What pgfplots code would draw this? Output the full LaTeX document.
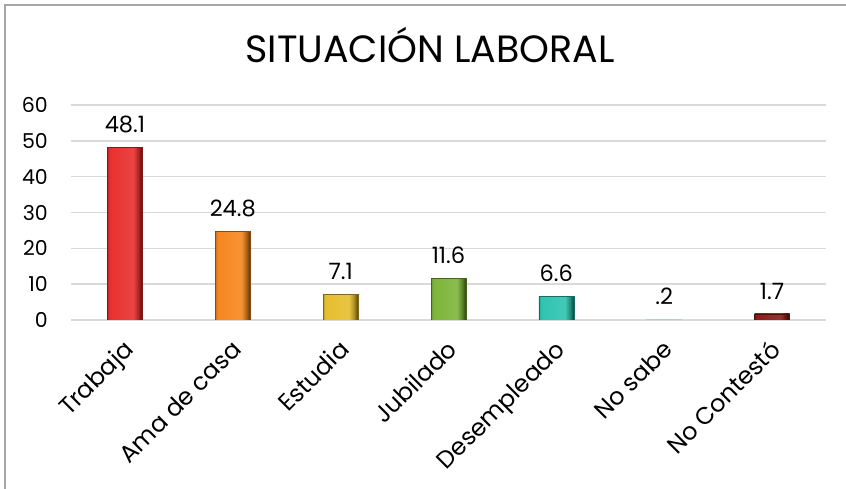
\documentclass[border=0pt]{standalone}
\usepackage{pgfplots}
\pgfplotsset{compat=1.18}
\usepackage{fontspec}
\setmainfont{Poppins}[Scale=1.0]
\definecolor{c1}{HTML}{E8302E}
\definecolor{c2}{HTML}{F5871F}
\definecolor{c3}{HTML}{E6BE2E}
\definecolor{c4}{HTML}{7DB53A}
\definecolor{c5}{HTML}{2EC4B0}
\definecolor{c6}{HTML}{A9CBEA}
\definecolor{c7}{HTML}{8E1B1B}
\definecolor{gridc}{HTML}{D9D9D9}
\definecolor{borderc}{HTML}{A6A6A6}
\newcommand\mkbev[1]{\pgfdeclarehorizontalshading{bev#1}{100bp}{color(0bp)=(#1!80!black); color(25bp)=(#1!80!black); color(28bp)=(#1); color(62bp)=(#1!90!white); color(69bp)=(#1!75!black); color(75bp)=(#1!35!black); color(100bp)=(#1!35!black)}}
\mkbev{c1}\mkbev{c2}\mkbev{c3}\mkbev{c4}\mkbev{c5}\mkbev{c7}
\pgfplotsset{bev/.style={bar shift=0pt, draw=#1!55!black, line width=0.6pt, shade, shading=bev#1}}
\begin{document}
\begin{tikzpicture}[x=1pt,y=1pt]
\path[use as bounding box] (0,0) rectangle (846,489);
\draw[borderc,line width=2pt] (5,0) -- (5,484) -- (846,484);
\node[anchor=base,font=\fontsize{38}{38}\selectfont] at (430,426) {SITUACIÓN LABORAL};
\begin{axis}[
  at={(71pt,169pt)}, anchor=south west,
  scale only axis, width=755pt, height=215pt,
  ymin=0, ymax=60, xmin=-0.5, xmax=6.5,
  ybar, bar width=35pt,
  axis line style={draw=none},
  ymajorgrids, grid style={gridc, line width=1.5pt},
  ytick={0,10,20,30,40,50,60},
  major tick length=0pt,
  xtick={0,1,2,3,4,5,6},
  xticklabels={Trabaja,Ama de casa,Estudia,Jubilado,Desempleado,No sabe,No Contestó},
  /pgf/number format/assume math mode=true,
  yticklabel style={font=\fontsize{20.5}{20.5}\selectfont, anchor=east, inner sep=0pt, xshift=-23pt},
  xticklabel style={font=\fontsize{24}{24}\selectfont, xshift=10pt, yshift=-31pt, rotate=45, anchor=base east, inner sep=0pt},
  every node near coord/.append style={font=\fontsize{22.5}{22.5}\selectfont, black, anchor=south, yshift=11pt},
]
\addplot[bev=c1, nodes near coords={48.1}] coordinates {(0,48.1)};
\addplot[bev=c2, nodes near coords={24.8}] coordinates {(1,24.8)};
\addplot[bev=c3, nodes near coords={7.1}] coordinates {(2,7.1)};
\addplot[bev=c4, nodes near coords={11.6}] coordinates {(3,11.6)};
\addplot[bev=c5, nodes near coords={6.6}] coordinates {(4,6.6)};
\addplot[bar shift=0pt, draw=c6, line width=1pt, fill=c6, nodes near coords={.2}] coordinates {(5,0.2)};
\addplot[bev=c7, nodes near coords={1.7}] coordinates {(6,1.7)};
\end{axis}
\end{tikzpicture}
\end{document}
